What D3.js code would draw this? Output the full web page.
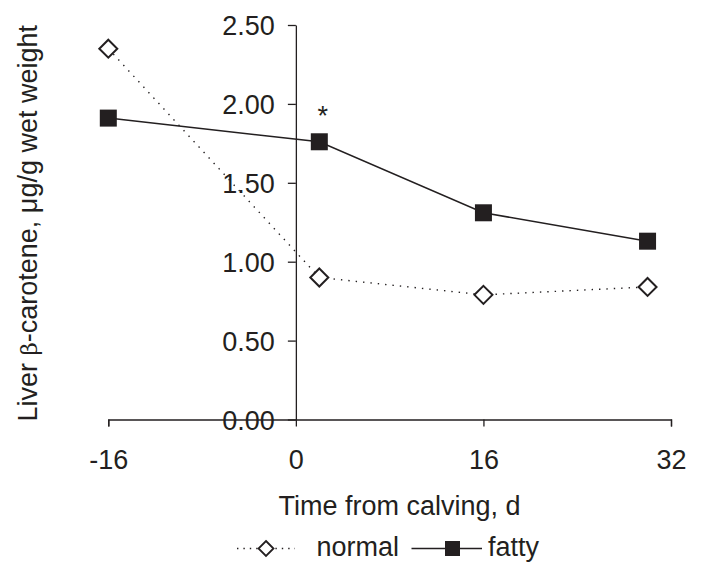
<!DOCTYPE html>
<html>
<head>
<meta charset="utf-8">
<script src="https://cdn.jsdelivr.net/npm/d3@7/dist/d3.min.js"></script>
<style>
  html, body { margin: 0; padding: 0; background: #fff; }
  svg { display: block; }
  text { font-family: "Liberation Sans", Arial, sans-serif; fill: #231f20; }
</style>
</head>
<body>
<svg id="chart" width="702" height="573"></svg>
<script>
// ---- data ----
const days = [-16, 2, 16, 30];
const normalValues = [2.35, 0.90, 0.79, 0.84];
const fattyValues = [1.91, 1.76, 1.31, 1.13];
const xTicks = [-16, 0, 16, 32];
const xTickLabels = ["-16", "0", "16", "32"];
const yTicks = [0, 0.5, 1.0, 1.5, 2.0, 2.5];
const seriesNames = ["normal", "fatty"];
const significantDays = [2];
const xTitle = "Time from calving, d";

const ink = "#231f20";
const svg = d3.select("#chart");

const x = d3.scaleLinear().domain([-16, 32]).range([108.3, 671]);
const y = d3.scaleLinear().domain([0, 2.5]).range([419.5, 25]);

// x axis
const xAxis = svg.append("g")
  .attr("transform", `translate(0,${y(0)})`)
  .call(d3.axisBottom(x).tickValues(xTicks).tickSize(7).tickSizeOuter(7).tickPadding(23.5)
    .tickFormat((d, i) => xTickLabels[i]));
xAxis.selectAll("path, line").attr("stroke", ink).attr("stroke-width", 1.3);
xAxis.selectAll("text").attr("font-size", 27).attr("fill", ink)
  .attr("font-family", '"Liberation Sans", Arial, sans-serif');

// y axis
const yAxis = svg.append("g")
  .attr("transform", `translate(${x(0)},0)`)
  .call(d3.axisLeft(y).tickValues(yTicks).tickSize(8).tickSizeOuter(0).tickPadding(13).tickFormat(d3.format(".2f")));
yAxis.selectAll("path, line").attr("stroke", ink).attr("stroke-width", 1.3);
yAxis.selectAll("text").attr("font-size", 27).attr("fill", ink).attr("dy", "0.36em")
  .attr("font-family", '"Liberation Sans", Arial, sans-serif');

// y title
const yt = svg.append("text")
  .attr("transform", `translate(37,${(y(0) + y(2.5)) / 2 + 1}) rotate(-90)`)
  .attr("text-anchor", "middle")
  .attr("font-size", 27);
yt.append("tspan").text("Liver ");
yt.append("tspan").attr("font-family", '"DejaVu Serif", "Liberation Serif", serif').attr("font-size", 23).text("β");
yt.append("tspan").text("-carotene, μg/g wet weight");

// x title
svg.append("text")
  .attr("x", 399.5).attr("y", 515)
  .attr("text-anchor", "middle")
  .attr("font-size", 27)
  .text(xTitle);

// lines
const line = d3.line().x(d => x(d[0])).y(d => y(d[1]));
const normalData = days.map((d, i) => [d, normalValues[i]]);
const fattyData = days.map((d, i) => [d, fattyValues[i]]);

svg.append("path").datum(normalData)
  .attr("d", line).attr("fill", "none").attr("stroke", ink)
  .attr("stroke-width", 1.4).attr("stroke-dasharray", "1.4,6").attr("stroke-linecap", "butt");
svg.append("path").datum(fattyData)
  .attr("d", line).attr("fill", "none").attr("stroke", ink).attr("stroke-width", 1.5);

// markers
const diamond = (cx, cy, r) => `M${cx},${cy - r}L${cx + r},${cy}L${cx},${cy + r}L${cx - r},${cy}Z`;
svg.append("g").selectAll("path").data(normalData).join("path")
  .attr("d", d => diamond(x(d[0]), y(d[1]), 9))
  .attr("fill", "#fff").attr("stroke", ink).attr("stroke-width", 2);
svg.append("g").selectAll("rect").data(fattyData).join("rect")
  .attr("x", d => x(d[0]) - 8.5).attr("y", d => y(d[1]) - 8.5)
  .attr("width", 17).attr("height", 17).attr("fill", ink);

// significance
svg.append("g").selectAll("text").data(significantDays).join("text")
  .attr("x", d => x(d) + 3.5)
  .attr("y", d => y(fattyValues[days.indexOf(d)]) - 17)
  .attr("text-anchor", "middle").attr("font-size", 27).text("*");

// legend
const lg = svg.append("g");
lg.append("line").attr("x1", 237).attr("x2", 295).attr("y1", 548.5).attr("y2", 548.5)
  .attr("stroke", ink).attr("stroke-width", 1.3).attr("stroke-dasharray", "1.4,5");
lg.append("path").attr("d", diamond(266, 548.5, 7.5))
  .attr("fill", "#fff").attr("stroke", ink).attr("stroke-width", 1.8);
lg.append("text").attr("x", 316.5).attr("y", 556).attr("font-size", 27).text(seriesNames[0]);
lg.append("line").attr("x1", 411.5).attr("x2", 482).attr("y1", 548.5).attr("y2", 548.5)
  .attr("stroke", ink).attr("stroke-width", 1.5);
lg.append("rect").attr("x", 445).attr("y", 541).attr("width", 15).attr("height", 15).attr("fill", ink);
lg.append("text").attr("x", 488).attr("y", 556).attr("font-size", 27).text(seriesNames[1]);
</script>
</body>
</html>
